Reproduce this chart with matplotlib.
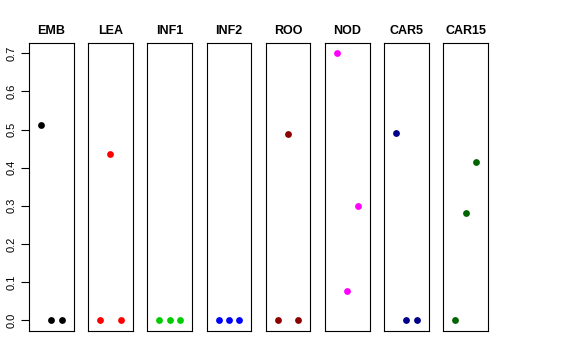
import matplotlib
matplotlib.use('Agg')
import matplotlib.pyplot as plt

plt.rcParams['font.family'] = ['Liberation Sans', 'DejaVu Sans']

groups = ['EMB', 'LEA', 'INF1', 'INF2', 'ROO', 'NOD', 'CAR5', 'CAR15']
colors = ['black', 'red', '#00CD00', 'blue', '#8B0000', 'magenta', '#00008B', '#006400']

emb = [0.513, 0.0, 0.0]
lea = [0.0, 0.435, 0.0]
inf1 = [0.0, 0.0, 0.0]
inf2 = [0.0, 0.0, 0.0]
roo = [0.0, 0.488, 0.0]
nod = [0.700, 0.077, 0.299]
car5 = [0.492, 0.0, 0.0]
car15 = [0.0, 0.281, 0.416]
values = [emb, lea, inf1, inf2, roo, nod, car5, car15]

yticks = [0.0, 0.1, 0.2, 0.3, 0.4, 0.5, 0.6, 0.7]
xs = [1, 2, 3]

fig = plt.figure(figsize=(5.76, 3.6), dpi=100)

left0 = 29 / 576
step = 59.2 / 576
width = 44.5 / 576
bottom = 29.3 / 360
height = 288 / 360

for i, (name, vals, col) in enumerate(zip(groups, values, colors)):
    ax = fig.add_axes([left0 + i * step, bottom, width, height])
    ax.scatter(xs, vals, s=24, color=col, zorder=3, linewidths=0)
    ax.set_xlim(-0.16, 4.16)
    ax.set_ylim(-0.028, 0.728)
    ax.set_xticks([])
    for sp in ax.spines.values():
        sp.set_linewidth(0.8)
        sp.set_color('black')
    ax.set_title(name, fontsize=9, fontweight='bold', pad=6)
    if i == 0:
        ax.set_yticks(yticks)
        ax.set_yticklabels(['%.1f' % v for v in yticks], rotation=90, va='center', fontsize=8)
        ax.tick_params(axis='y', length=6, width=0.8, pad=3)
    else:
        ax.set_yticks([])

fig.savefig('out.png', dpi=100)
